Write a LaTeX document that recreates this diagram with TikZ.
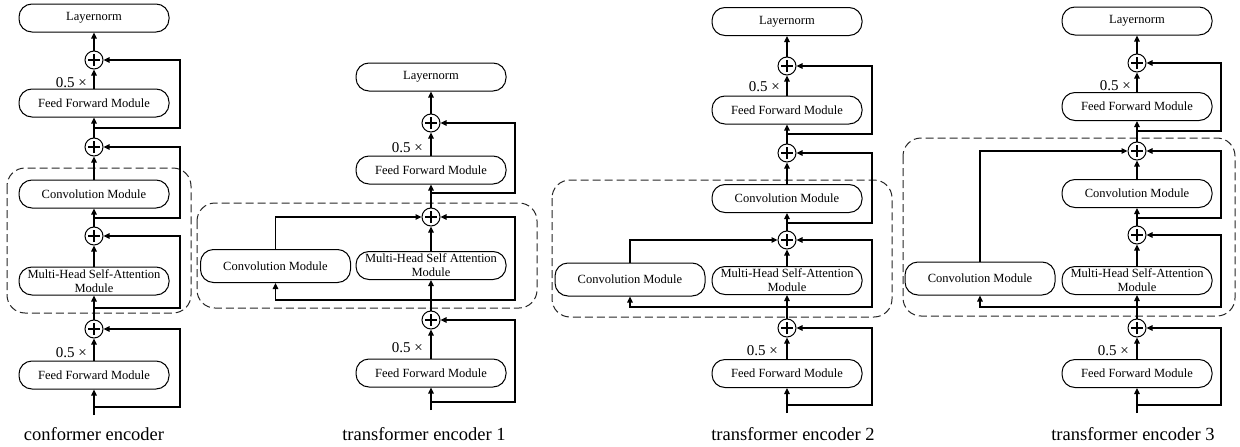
\documentclass[tikz,border=0pt]{standalone}
\usepackage{fontspec}
\setmainfont{Liberation Serif}
\usetikzlibrary{arrows.meta, calc}
\tikzset{
  modbox/.style={
    draw,
    rounded corners=13pt,
    align=center,
    font=\fontsize{12.5}{14}\selectfont,
    minimum width=150pt,
    minimum height=28pt,
    inner xsep=2pt,
    inner ysep=2pt,
    line width=1pt,
  },
  sidebox/.style={modbox, minimum height=33pt},
  sumnode/.style={
    circle, draw, line width=1pt, minimum size=18pt, inner sep=0pt,
    path picture={
      \draw[line width=1.7pt]
        ([xshift=-6pt]path picture bounding box.center) -- ([xshift=6pt]path picture bounding box.center)
        ([yshift=-6pt]path picture bounding box.center) -- ([yshift=6pt]path picture bounding box.center);
    },
  },
  arr/.style={-{Triangle[length=6pt, width=5.5pt]}, line width=1.1pt},
  scalelbl/.style={font=\fontsize{15}{18}\selectfont, anchor=east, inner sep=0pt},
  grpbox/.style={dash pattern=on 8pt off 4pt, draw=black!85, line width=1pt, rounded corners=18pt},
  caption/.style={font=\fontsize{18.5}{22}\selectfont, inner sep=0pt},
}

\begin{document}
\begin{tikzpicture}[x=1pt, y=-1pt]
\useasboundingbox (0,0) rectangle (1240,447);

% Conformer encoder
\node[modbox] (ln1) at (94,18) {Layernorm};
\node[sumnode] (p11) at (94,60) {};
\node[modbox] (ff1a) at (94,103) {Feed Forward Module};
\node[sumnode] (p12) at (94,147) {};
\node[modbox] (cv1) at (94,194) {Convolution Module};
\node[sumnode] (p13) at (94,236) {};
\node[modbox] (mh1) at (94,281) {Multi-Head Self-Attention\\Module};
\node[sumnode] (p14) at (94,329) {};
\node[modbox] (ff1b) at (94,375) {Feed Forward Module};
\coordinate (in1) at (94,415);
\coordinate (r1) at (180,0);
\foreach \y/\n in {407/b14, 308/b13, 218/b12, 128/b11}
  {\coordinate (\n) at (94,\y);}
\node[scalelbl] (h1a) at (87,83) {0.5 ×};
\node[scalelbl] (h1b) at (87,353) {0.5 ×};
\draw[grpbox] (7,168) rectangle (191,313);
\node[caption] (c1) at (94,434) {conformer encoder};

% Transformer encoder 1
\node[modbox] (ln2) at (431,77) {Layernorm};
\node[sumnode] (p21) at (431,123) {};
\node[modbox] (ff2a) at (431,170) {Feed Forward Module};
\node[sumnode] (p22) at (431,217) {};
\node[modbox] (mh2) at (431,265.5) {Multi-Head Self Attention\\Module};
\node[sidebox] (cv2) at (275.5,266) {Convolution Module};
\node[sumnode] (p23) at (431,320) {};
\node[modbox] (ff2b) at (431,373) {Feed Forward Module};
\coordinate (in2) at (431,410);
\coordinate (r2) at (515,0);
\foreach \y/\n in {402/b23, 300/b22, 193/b21}
  {\coordinate (\n) at (431,\y);}
\node[scalelbl] (h2a) at (423,148) {0.5 ×};
\node[scalelbl] (h2b) at (423,348) {0.5 ×};
\draw[grpbox] (197,203) rectangle (537,308);
\node[caption] (c2) at (424,434) {transformer encoder 1};

% Transformer encoder 2
\node[modbox] (ln3) at (787,21.5) {Layernorm};
\node[sumnode] (p31) at (787,66) {};
\node[modbox] (ff3a) at (787,110) {Feed Forward Module};
\node[sumnode] (p32) at (787,153) {};
\node[modbox] (cv3a) at (787,198.5) {Convolution Module};
\node[sumnode] (p33) at (787,240) {};
\node[modbox] (mh3) at (787,280.5) {Multi-Head Self-Attention\\Module};
\node[sidebox] (cv3b) at (630,279.5) {Convolution Module};
\node[sumnode] (p34) at (787,328) {};
\node[modbox] (ff3b) at (787,373.5) {Feed Forward Module};
\coordinate (in3) at (787,413);
\coordinate (r3) at (872,0);
\foreach \y/\n in {405/b34, 307/b33, 223/b32, 134/b31}
  {\coordinate (\n) at (787,\y);}
\node[scalelbl] (h3a) at (780,87) {0.5 ×};
\node[scalelbl] (h3b) at (778,351) {0.5 ×};
\draw[grpbox] (552,180) rectangle (892,317);
\node[caption] (c3) at (793,434) {transformer encoder 2};

% Transformer encoder 3
\node[modbox] (ln4) at (1137,21) {Layernorm};
\node[sumnode] (p41) at (1137,63) {};
\node[modbox] (ff4a) at (1137,106.5) {Feed Forward Module};
\node[sumnode] (p42) at (1137,151) {};
\node[modbox] (cv4a) at (1137,193.5) {Convolution Module};
\node[sumnode] (p43) at (1137,235) {};
\node[modbox] (mh4) at (1137,280.5) {Multi-Head Self-Attention\\Module};
\node[sidebox] (cv4b) at (980,278.5) {Convolution Module};
\node[sumnode] (p44) at (1137,328) {};
\node[modbox] (ff4b) at (1137,373.5) {Feed Forward Module};
\coordinate (in4) at (1137,413);
\coordinate (r4) at (1221,0);
\foreach \y/\n in {405/b44, 307/b43, 218/b42, 131/b41}
  {\coordinate (\n) at (1137,\y);}
\node[scalelbl] (h4a) at (1131,86) {0.5 ×};
\node[scalelbl] (h4b) at (1129,351) {0.5 ×};
\draw[grpbox] (903,138) rectangle (1235,316);
\node[caption] (c4) at (1133,434) {transformer encoder 3};

% --- Flow arrows -------------------------------------------------------
\foreach \i/\f in {1/ff1b, 2/ff2b, 3/ff3b, 4/ff4b}
  {\draw[arr] (in\i) -- (\f.south);}
\foreach \a/\b in {ff1b/p14, p14/mh1, mh1/p13, p13/cv1, cv1/p12, p12/ff1a, ff1a/p11, p11/ln1,
                   ff2b/p23, p23/mh2, mh2/p22, p22/ff2a, ff2a/p21, p21/ln2,
                   ff3b/p34, p34/mh3, mh3/p33, p33/cv3a, cv3a/p32, p32/ff3a, ff3a/p31, p31/ln3,
                   ff4b/p44, p44/mh4, mh4/p43, p43/cv4a, cv4a/p42, p42/ff4a, ff4a/p41, p41/ln4}
  {\draw[arr] (\a.north) -- (\b.south);}

% Residual skips (right side)
\foreach \a/\b/\r in {b14/p14/r1, b13/p13/r1, b12/p12/r1, b11/p11/r1,
                      b23/p23/r2, b22/p22/r2, b21/p21/r2,
                      b34/p34/r3, b33/p33/r3, b32/p32/r3, b31/p31/r3,
                      b44/p44/r4, b43/p43/r4, b42/p42/r4, b41/p41/r4}
  {\draw[arr] (\a) -- (\a -| \r) |- (\b.east);}

% Parallel convolution branch (left side)
\draw[arr] (b22) -| (cv2.south);
\draw[arr] (cv2.north) |- (p22.west);
\draw[arr] (b33) -| (cv3b.south);
\draw[arr] (cv3b.north) |- (p33.west);
\draw[arr] (b43) -| (cv4b.south);
\draw[arr] (cv4b.north) |- (p42.west);

\end{tikzpicture}
\end{document}
